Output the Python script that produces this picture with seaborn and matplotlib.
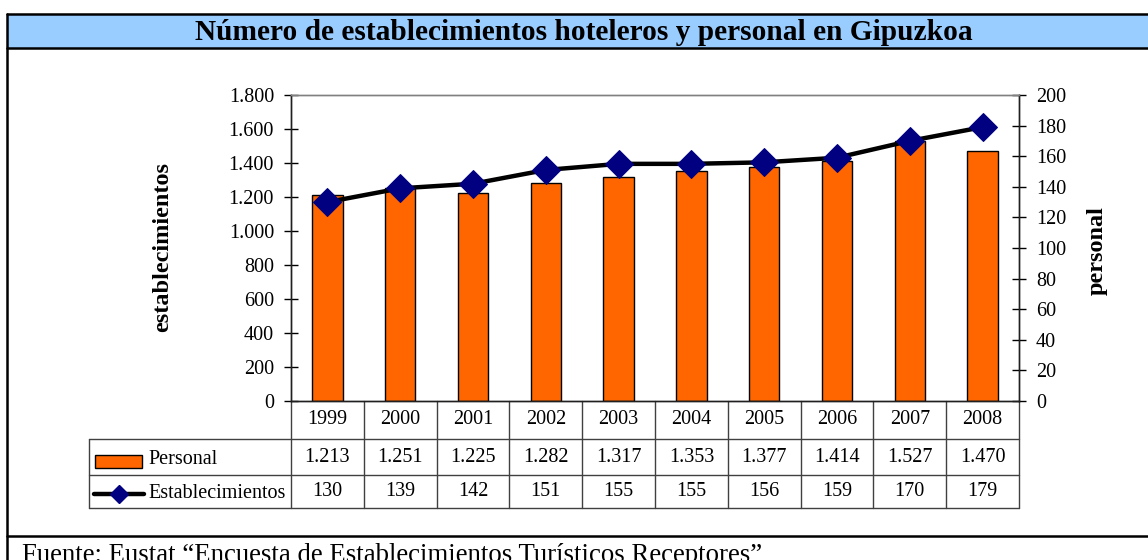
import numpy as np
import pandas as pd
import matplotlib
matplotlib.use("Agg")
import matplotlib.pyplot as plt
import seaborn as sns
import matplotlib.transforms as mtrans
from matplotlib.patches import Rectangle
from matplotlib.lines import Line2D
from matplotlib.ticker import FuncFormatter, MultipleLocator

# ---- data ----
years = ["1999", "2000", "2001", "2002", "2003", "2004", "2005", "2006", "2007", "2008"]
personal = [1213, 1251, 1225, 1282, 1317, 1353, 1377, 1414, 1527, 1470]
establecimientos = [130, 139, 142, 151, 155, 155, 156, 159, 170, 179]
personal_labels = ["1.213", "1.251", "1.225", "1.282", "1.317", "1.353", "1.377", "1.414", "1.527", "1.470"]
title = "Número de establecimientos hoteleros y personal en Gipuzkoa"
footer = "Fuente: Eustat \u201cEncuesta de Establecimientos Turísticos Receptores\u201d"

sns.set_style("white")
plt.rcParams["font.family"] = ["Liberation Serif", "DejaVu Serif"]
plt.rcParams["text.color"] = "black"
plt.rcParams["axes.labelcolor"] = "black"
plt.rcParams["xtick.color"] = "black"
plt.rcParams["ytick.color"] = "black"

W, H = 1148, 560
fig = plt.figure(figsize=(W / 100, H / 100), dpi=100)

def fx(px):
    return px / W

def fy(py):
    return 1 - py / H

ax_l, ax_r, ax_t, ax_b = 291, 1019, 95, 401
ax = fig.add_axes([fx(ax_l), fy(ax_b), fx(ax_r - ax_l), (ax_b - ax_t) / H])

df = pd.DataFrame({"year": years, "personal": personal, "estab": establecimientos})

sns.barplot(data=df, x="year", y="personal", ax=ax, color="#FF6600", saturation=1,
            edgecolor="black", linewidth=1.0, width=0.42)
ax.set_ylim(0, 1800)
ax.set_xlim(-0.5, len(years) - 0.5)
ax.yaxis.set_major_locator(MultipleLocator(200))
ax.yaxis.set_major_formatter(FuncFormatter(lambda v, p: f"{int(v):,}".replace(",", ".")))
ax.tick_params(axis="y", direction="inout", length=9.5, width=1, pad=7.5,
               labelsize=14.5, colors="black", left=True)
ax.tick_params(axis="x", length=0, labelbottom=False)
ax.set_xlabel("")
ax.set_ylabel("")

ax2 = ax.twinx()
sns.lineplot(x=np.arange(len(years)), y=df["estab"], ax=ax2, color="black", linewidth=3.2,
             marker="D", markersize=14, markerfacecolor="#000080", markeredgecolor="#000080")
ax2.set_ylim(0, 200)
ax2.set_xlim(-0.5, len(years) - 0.5)
ax2.yaxis.set_major_locator(MultipleLocator(20))
ax2.tick_params(axis="y", direction="inout", length=9.5, width=1, pad=7.5,
                labelsize=14.5, colors="black", right=True)
ax2.set_ylabel("")

for a in (ax, ax2):
    for s in ("left", "right", "bottom"):
        a.spines[s].set_color("#202020")
        a.spines[s].set_linewidth(1.0)
    a.spines["top"].set_color("#808080")
    a.spines["top"].set_linewidth(1.0)
    a.grid(False)

# axis titles
fig.text(fx(163), fy(247), "establecimientos", rotation=90, ha="center", va="center",
         fontsize=17.5, fontweight="bold")
fig.text(fx(1097), fy(251), "personal", rotation=90, ha="center", va="center",
         fontsize=17.5, fontweight="bold")

# ---- data table below ----
def ay(py):
    return (ax_b - py) / (ax_b - ax_t)

def axx(px):
    return (px - ax_l) / (ax_r - ax_l)

blend = mtrans.blended_transform_factory(ax.transData, ax.transAxes)
grid_col = "#404040"
y_row1, y_row2, y_row3 = ay(439), ay(475), ay(508)
for k in range(len(years) + 1):
    ax.add_line(Line2D([k - 0.5, k - 0.5], [0, y_row3], transform=blend, color=grid_col,
                       lw=1.0, clip_on=False))
for yy in (y_row1, y_row2, y_row3):
    ax.add_line(Line2D([axx(89), 1], [yy, yy], transform=ax.transAxes, color=grid_col,
                       lw=1.0, clip_on=False))
ax.add_line(Line2D([axx(89), axx(89)], [y_row1, y_row3], transform=ax.transAxes,
                   color=grid_col, lw=1.0, clip_on=False))

for i, yr in enumerate(years):
    ax.text(i, ay(420), yr, transform=blend, ha="center", va="center", fontsize=14.5)
    ax.text(i, ay(457), personal_labels[i], transform=blend, ha="center", va="center",
            fontsize=14.5)
    ax.text(i, ay(491.5), str(establecimientos[i]), transform=blend, ha="center", va="center",
            fontsize=14.5)

# legend keys in table
ax.add_patch(Rectangle((axx(95), ay(468)), axx(142) - axx(95), ay(455) - ay(468),
                       transform=ax.transAxes, facecolor="#FF6600", edgecolor="black",
                       lw=1.0, clip_on=False))
ax.text(axx(148), ay(460), "Personal", transform=ax.transAxes, ha="left", va="center",
        fontsize=14.5)
ax.add_line(Line2D([axx(94), axx(144)], [ay(494), ay(494)], transform=ax.transAxes,
                   color="black", lw=3.2, clip_on=False))
ax.add_line(Line2D([axx(119)], [ay(494)], transform=ax.transAxes, marker="D", markersize=9,
                   color="#000080", clip_on=False))
ax.text(axx(148), ay(493), "Establecimientos", transform=ax.transAxes, ha="left", va="center",
        fontsize=14.5)

# ---- frame, title band, footer ----
fig.add_artist(Rectangle((fx(7), fy(48)), fx(1200 - 7), fy(14) - fy(48),
                         transform=fig.transFigure, facecolor="#99CCFF", edgecolor="none",
                         zorder=0))
for py in (14, 48, 536):
    fig.add_artist(Line2D([fx(7), 1.0], [fy(py), fy(py)], transform=fig.transFigure,
                          color="black", lw=1.8))
fig.add_artist(Line2D([fx(7), fx(7)], [fy(14), 0], transform=fig.transFigure,
                      color="black", lw=1.8))
fig.text(fx(584), fy(32), title, ha="center", va="center", fontsize=21.2, fontweight="bold")
fig.text(fx(22), fy(562), footer, ha="left", va="baseline", fontsize=19.3)

fig.savefig("out.png", dpi=100)
